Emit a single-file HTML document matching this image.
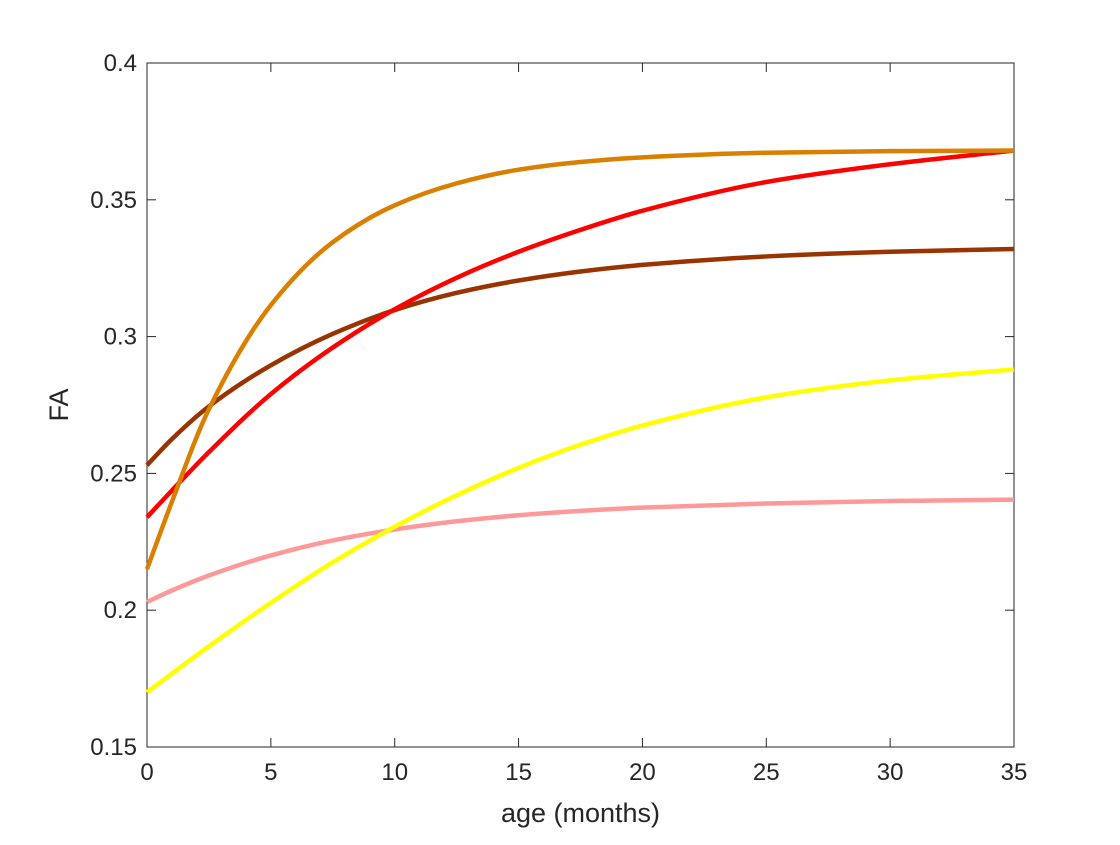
<!DOCTYPE html>
<html><head><meta charset="utf-8"><style>
body{margin:0;background:#fff;}
svg text{font-family:"Liberation Sans",sans-serif;fill:#262626;}
</style></head><body>
<svg id="chart" width="1120" height="840" viewBox="0 0 1120 840">
<rect width="1120" height="840" fill="#fff"/>
<g id="plot"></g>
</svg>
<script>
const ages=[0,1,2.5,5,7.5,10,12.5,15,17.5,20,25,30,35];
const pinkVals=[0.203,0.2072,0.2127,0.2200,0.2255,0.2295,0.2325,0.2347,0.2363,0.2375,0.2390,0.2399,0.2404];
const yellowVals=[0.170,0.1768,0.1868,0.2027,0.2175,0.2305,0.2420,0.2520,0.2605,0.2675,0.2778,0.2840,0.2880];
const brownVals=[0.253,0.2625,0.2745,0.2895,0.3010,0.3097,0.3160,0.3205,0.3238,0.3262,0.3293,0.3310,0.3320];
const redVals=[0.234,0.2437,0.2578,0.2790,0.2960,0.3100,0.3215,0.3310,0.3390,0.3460,0.3565,0.3630,0.3680];
const orangeVals=[0.215,0.2395,0.2735,0.3115,0.3345,0.3480,0.3560,0.3610,0.3638,0.3655,0.3672,0.3678,0.3680];
const xTicks=[0,5,10,15,20,25,30,35];
const yTicks=[0.15,0.2,0.25,0.3,0.35,0.4];
const yTickLabels=["0.15","0.2","0.25","0.3","0.35","0.4"];

const L=147,R=1014,T=63,B=747;
const X=v=>L+(v-0)/35*(R-L);
const Y=v=>B-(v-0.15)/0.25*(B-T);
const NS="http://www.w3.org/2000/svg";
const g=document.getElementById('plot');
function mk(tag,attrs,parent){const e=document.createElementNS(NS,tag);for(const k in attrs)e.setAttribute(k,attrs[k]);(parent||g).appendChild(e);return e;}

const axes=mk('rect',{x:L,y:T,width:R-L,height:B-T,fill:'none',stroke:'#262626','stroke-width':1});



xTicks.forEach(t=>{
  const x=X(t);
  const l1=mk('line',{x1:x,x2:x,y1:B,y2:B-9,stroke:'#262626'});
  
  
  const l2=mk('line',{x1:x,x2:x,y1:T,y2:T+9,stroke:'#262626'});
  
  
  const tx=mk('text',{x:x,y:B+33,'text-anchor':'middle','font-size':24});
  tx.textContent=t;
  
  
});
yTicks.forEach((t,i)=>{
  const y=Y(t);
  const l1=mk('line',{x1:L,x2:L+9,y1:y,y2:y,stroke:'#262626'});
  
  
  const l2=mk('line',{x1:R,x2:R-9,y1:y,y2:y,stroke:'#262626'});
  
  
  const tx=mk('text',{x:L-10,y:y+8,'text-anchor':'end','font-size':24});
  tx.textContent=yTickLabels[i];
  
  
});
const xt=mk('text',{x:(L+R)/2,y:822,'text-anchor':'middle','font-size':27});
xt.textContent='age (months)';


const yt=mk('text',{x:0,y:0,'text-anchor':'middle','font-size':27,transform:`translate(68,${(T+B)/2}) rotate(-90)`});
yt.textContent='FA';



// monotone cubic (Fritsch–Carlson) interpolation for smooth curves
function pathFor(vals){
  const p=ages.map((a,i)=>[X(a),Y(vals[i])]);
  const n=p.length,dx=[],s=[],m=[];
  for(let i=0;i<n-1;i++){dx[i]=p[i+1][0]-p[i][0];s[i]=(p[i+1][1]-p[i][1])/dx[i];}
  m[0]=s[0];m[n-1]=s[n-2];
  for(let i=1;i<n-1;i++){
    if(s[i-1]*s[i]<=0)m[i]=0;
    else{const w1=2*dx[i]+dx[i-1],w2=dx[i]+2*dx[i-1];m[i]=(w1+w2)/(w1/s[i-1]+w2/s[i]);}
  }
  let d=`M${p[0][0]},${p[0][1]}`;
  for(let i=0;i<n-1;i++){
    const h=dx[i]/3;
    d+=` C${p[i][0]+h},${p[i][1]+m[i]*h} ${p[i+1][0]-h},${p[i+1][1]-m[i+1]*h} ${p[i+1][0]},${p[i+1][1]}`;
  }
  return d;
}
const series=[[pinkVals,'#ff9999','pink-series-line'],[yellowVals,'#ffff00','yellow-series-line'],[brownVals,'#993300','brown-series-line'],[redVals,'#ff0000','red-series-line'],[orangeVals,'#d98000','orange-series-line']];
series.forEach(s=>{
  const e=mk('path',{d:pathFor(s[0]),fill:'none',stroke:s[1],'stroke-width':4.5});
  
  
});
</script>
</body></html>
